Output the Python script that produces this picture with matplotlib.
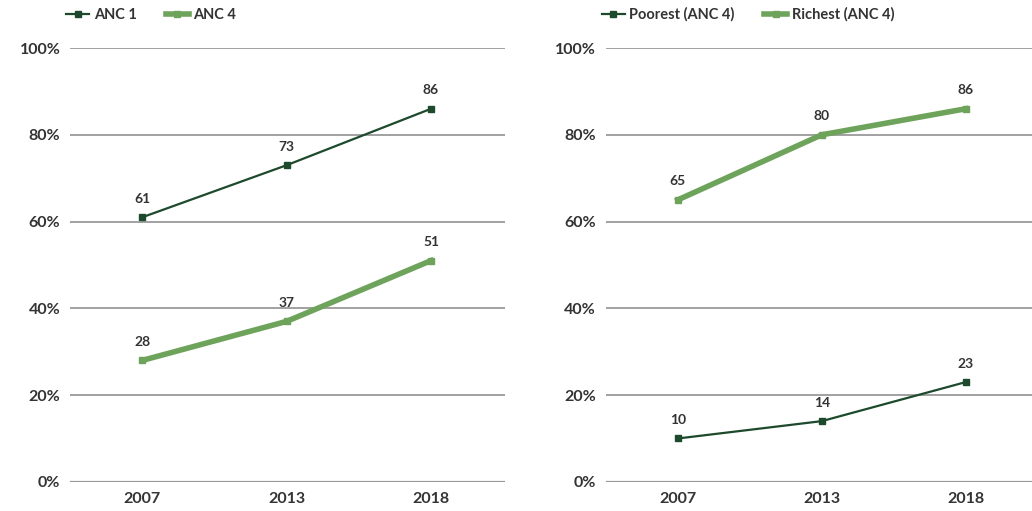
import matplotlib.pyplot as plt

years = ["2007", "2013", "2018"]
anc1 = [61, 73, 86]
anc4 = [28, 37, 51]
poorest = [10, 14, 23]
richest = [65, 80, 86]
yticks = [0, 20, 40, 60, 80, 100]

dark = "#1d4a2c"
light = "#6da35a"
plt.rcParams['font.family'] = ['Lato', 'DejaVu Sans']

fig = plt.figure(figsize=(10.32, 5.11), dpi=100)
ax1 = fig.add_axes([0.068, 0.057, 0.421, 0.849])
ax2 = fig.add_axes([0.587, 0.057, 0.413, 0.849])

def draw(ax, s1, s2, n1, n2, xmax):
    x = range(len(years))
    ax.plot(x, s1, color=dark, lw=1.6, marker="s", ms=5, label=n1, zorder=3)
    ax.plot(x, s2, color=light, lw=4, marker="s", ms=5, label=n2, zorder=3)
    for s in (s1, s2):
        for i, v in enumerate(s):
            ax.annotate(str(v), (i, v), xytext=(0, 9), textcoords="offset points",
                        ha="center", va="bottom", fontsize=10, fontweight="bold", color="#333333")
    ax.set_ylim(0, 100)
    ax.set_xlim(-0.5, xmax)
    ax.set_yticks(yticks)
    ax.set_yticklabels([f"{t}%" for t in yticks])
    ax.set_xticks(list(x))
    ax.set_xticklabels(years)
    for t in yticks:
        ax.axhline(t, color="#9a9a9a", lw=1.6 if t == 0 else 1.3, zorder=1)
    for sp in ax.spines.values():
        sp.set_visible(False)
    ax.tick_params(length=0, labelsize=11.5, labelcolor="#333333", pad=7)
    for lab in ax.get_xticklabels() + ax.get_yticklabels():
        lab.set_fontweight("bold")
    leg = ax.legend(loc="lower left", bbox_to_anchor=(-0.03, 1.04), ncol=2, frameon=False,
                    fontsize=10.5, handlelength=1.6, handletextpad=0.3, columnspacing=2.0,
                    borderaxespad=0.2, markerscale=0.9)
    for t in leg.get_texts():
        t.set_color("#333333")
        t.set_fontweight("bold")

draw(ax1, anc1, anc4, "ANC 1", "ANC 4", 2.51)
draw(ax2, poorest, richest, "Poorest (ANC 4)", "Richest (ANC 4)", 2.46)

fig.savefig("out.png", dpi=100)
